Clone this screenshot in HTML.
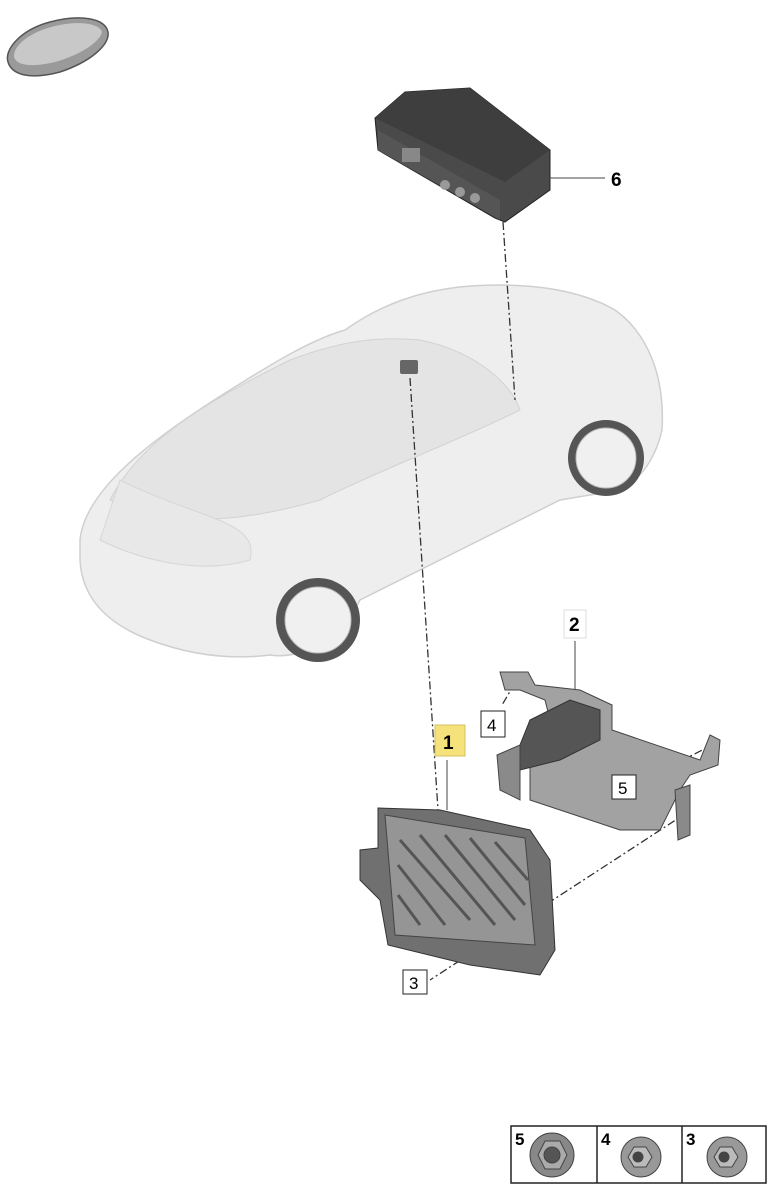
<!DOCTYPE html>
<html><head><style>
html,body{margin:0;padding:0;background:#fff;}
svg{display:block}
text{font-family:"Liberation Sans",sans-serif;}
</style></head><body>
<svg width="783" height="1200" viewBox="0 0 783 1200" xmlns="http://www.w3.org/2000/svg">
<path d="M8,62 C4,50 20,30 50,22 C80,14 105,18 108,32 C110,45 90,62 60,72 C30,80 12,75 8,62Z" fill="#9a9a9a" stroke="#555" stroke-width="1.5"/>
<path d="M14,56 C14,45 30,32 55,26 C80,20 100,24 102,32 C100,42 80,55 55,62 C30,68 15,65 14,56Z" fill="#c8c8c8"/>

<path d="M375,118 L405,92 L470,88 L550,150 L550,190 L505,222 L495,218 L378,150Z" fill="#4a4a4a" stroke="#222"/>
<path d="M375,118 L405,92 L470,88 L550,150 L505,182 Z" fill="#3e3e3e"/>
<path d="M378,130 L500,200 L500,220 L378,150Z" fill="#555"/>
<rect x="402" y="148" width="18" height="14" fill="#888"/>
<circle cx="445" cy="185" r="5" fill="#999"/><circle cx="460" cy="192" r="5" fill="#999"/><circle cx="475" cy="198" r="5" fill="#999"/>
<line x1="548" y1="178" x2="605" y2="178" stroke="#444"/>
<text x="611" y="186" font-size="19" font-weight="bold">6</text>

<path d="M80,540 C85,490 150,440 230,390 C270,365 310,340 345,330 C380,305 420,290 470,286 C530,282 580,290 615,310 C650,335 665,380 662,430 C655,460 640,480 620,490 L560,500 C500,530 420,570 360,600 C340,640 300,660 270,655 C230,660 190,655 150,640 C110,625 82,600 80,560Z" fill="#eeeeee" stroke="#cfcfcf" stroke-width="1.5"/>
<path d="M110,500 C140,440 210,400 290,360 C330,345 370,335 420,340 C470,350 510,380 520,410 C460,440 380,470 320,500 C250,520 180,530 110,500Z" fill="#e4e4e4" stroke="#d2d2d2"/>
<path d="M120,480 C200,520 260,520 250,560 C200,575 140,560 100,540Z" fill="#e8e8e8" stroke="#d6d6d6"/>
<circle cx="606" cy="458" r="38" fill="#555" /><circle cx="606" cy="458" r="30" fill="#f0f0f0" stroke="#bbb"/>
<circle cx="318" cy="620" r="42" fill="#555" /><circle cx="318" cy="620" r="33" fill="#f0f0f0" stroke="#bbb"/>
<rect x="400" y="360" width="18" height="14" fill="#666" rx="2"/>

<g stroke="#333" stroke-width="1.3" stroke-dasharray="8,3,2,3" fill="none">
<line x1="503" y1="222" x2="515" y2="400"/>
<line x1="410" y1="378" x2="438" y2="810"/>
<line x1="515" y1="683" x2="502" y2="705"/>
<line x1="716" y1="743" x2="640" y2="782"/>
<line x1="688" y1="812" x2="430" y2="980"/>
</g>

<path d="M500,672 L528,672 L535,685 L580,690 L612,705 L612,730 L700,760 L710,735 L720,740 L718,765 L690,775 L680,790 L660,830 L620,830 L530,800 L530,760 L550,720 L545,700 L520,690 L505,690Z" fill="#a2a2a2" stroke="#444"/>
<path d="M530,720 L570,700 L600,710 L600,740 L560,760 L520,770 L520,745Z" fill="#555" stroke="#333"/>
<path d="M497,755 L520,745 L520,800 L500,790Z" fill="#8a8a8a" stroke="#444"/>
<path d="M675,790 L690,785 L690,835 L678,840Z" fill="#8a8a8a" stroke="#444"/>
<line x1="575" y1="641" x2="575" y2="690" stroke="#444"/>
<rect x="564" y="610" width="22" height="28" fill="#fff" stroke="#ddd"/>
<text x="569" y="631" font-size="19" font-weight="bold">2</text>
<rect x="481" y="711" width="24" height="26" fill="#fff" stroke="#222"/>
<text x="487" y="731" font-size="17">4</text>
<rect x="612" y="775" width="24" height="24" fill="#fff" stroke="#222"/>
<text x="618" y="794" font-size="17">5</text>

<line x1="447" y1="760" x2="447" y2="810" stroke="#444"/>
<rect x="435" y="725" width="30" height="31" fill="#f6e27a" stroke="#d4c060"/>
<text x="443" y="749" font-size="19" font-weight="bold">1</text>
<path d="M378,808 L440,810 L530,830 L550,860 L555,950 L540,975 L470,965 L388,945 L380,900 L360,880 L360,850 L378,848Z" fill="#707070" stroke="#333"/>
<path d="M385,815 L525,838 L535,945 L395,935Z" fill="#959595" stroke="#444"/>
<g stroke="#555" stroke-width="3">
<line x1="400" y1="840" x2="470" y2="920"/><line x1="420" y1="835" x2="495" y2="925"/>
<line x1="445" y1="835" x2="515" y2="920"/><line x1="470" y1="838" x2="525" y2="905"/>
<line x1="495" y1="842" x2="528" y2="880"/><line x1="398" y1="865" x2="445" y2="925"/>
<line x1="398" y1="895" x2="420" y2="925"/>
</g>
<rect x="403" y="970" width="24" height="24" fill="#fff" stroke="#222"/>
<text x="409" y="989" font-size="17">3</text>

<rect x="511" y="1126" width="255" height="57" fill="#fff" stroke="#222" stroke-width="1.5"/>
<line x1="597" y1="1126" x2="597" y2="1183" stroke="#222" stroke-width="1.5"/>
<line x1="682" y1="1126" x2="682" y2="1183" stroke="#222" stroke-width="1.5"/>
<text x="515" y="1145" font-size="17" font-weight="bold">5</text>
<text x="601" y="1145" font-size="17" font-weight="bold">4</text>
<text x="686" y="1145" font-size="17" font-weight="bold">3</text>
<g stroke="#444">
<circle cx="552" cy="1155" r="22" fill="#888"/><polygon points="538,1155 545,1141 560,1141 567,1155 560,1169 545,1169" fill="#aaa"/><circle cx="552" cy="1155" r="8" fill="#555"/>
<circle cx="641" cy="1157" r="20" fill="#999"/><polygon points="628,1157 634,1147 646,1147 652,1157 646,1167 634,1167" fill="#bbb"/><circle cx="638" cy="1157" r="5" fill="#444"/>
<circle cx="727" cy="1157" r="20" fill="#999"/><polygon points="714,1157 720,1147 732,1147 738,1157 732,1167 720,1167" fill="#bbb"/><circle cx="724" cy="1157" r="5" fill="#444"/>
</g>
</svg>
</body></html>
